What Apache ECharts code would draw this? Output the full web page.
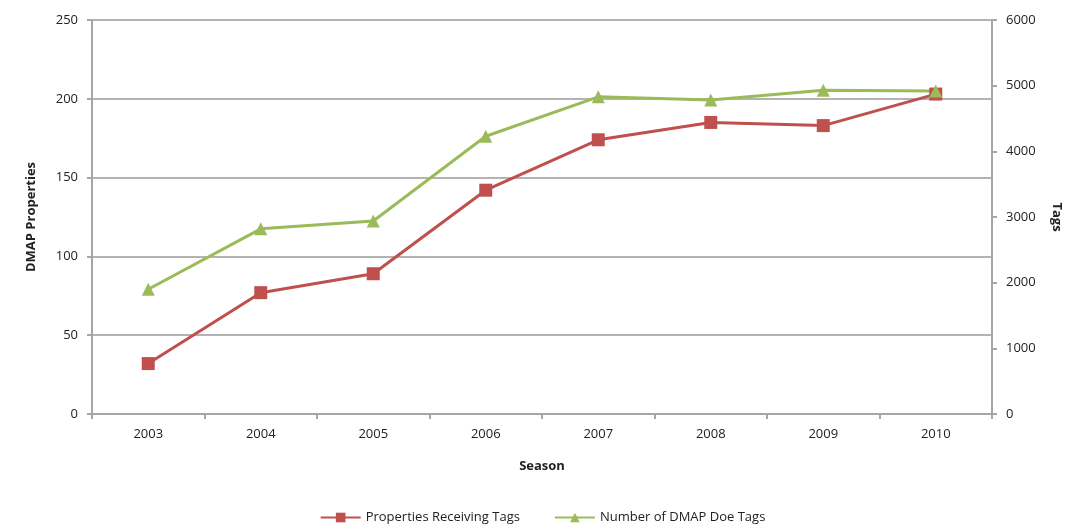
<!DOCTYPE html>
<html>
<head>
<meta charset="utf-8">
<script src="https://cdn.jsdelivr.net/npm/echarts@6/dist/echarts.min.js"></script>
<style>
  html, body { margin: 0; padding: 0; background: #fff; }
  #main { width: 1085px; height: 531px; }
</style>
</head>
<body>
<div id="main"></div>
<script>
// 类目与数据
const seasons = ['2003', '2004', '2005', '2006', '2007', '2008', '2009', '2010'];
const propertiesReceivingTags = [32, 77, 89, 142, 174, 185, 183, 203];
const doeTags = [1900, 2820, 2940, 4230, 4830, 4780, 4930, 4920];

const font = '"Open Sans", "Liberation Sans", sans-serif';
const gray = '#a6a6a6';

const myChart = echarts.init(document.getElementById('main'));
const options = {
  animation: false,
  textStyle: { fontFamily: font },
  grid: { left: 92, right: 93, top: 20, bottom: 117 },
  legend: {
    bottom: 2,
    left: 'center',
    itemWidth: 40,
    itemHeight: 12,
    itemGap: 34,
    textStyle: { fontSize: 13, color: '#222' },
    data: ['Properties Receiving Tags', 'Number of DMAP Doe Tags'],
  },
  xAxis: {
    type: 'category',
    data: seasons,
    boundaryGap: true,
    name: 'Season',
    nameLocation: 'middle',
    nameGap: 46,
    nameTextStyle: { fontWeight: 'bold', fontSize: 13, color: '#222' },
    axisLine: { lineStyle: { color: gray, width: 2 } },
    axisTick: { show: true, length: 5, lineStyle: { color: gray, width: 2 } },
    axisLabel: { fontSize: 13, color: '#222', margin: 14 },
  },
  yAxis: [
    {
      type: 'value',
      min: 0,
      max: 250,
      interval: 50,
      name: 'DMAP Properties',
      nameLocation: 'middle',
      nameGap: 54,
      nameTextStyle: { fontWeight: 'bold', fontSize: 13, color: '#222' },
      axisLine: { show: true, lineStyle: { color: gray, width: 2 } },
      axisTick: { show: true, length: 5, lineStyle: { color: gray, width: 2 } },
      axisLabel: { fontSize: 13, color: '#222', margin: 14 },
      splitLine: { show: true, lineStyle: { color: '#b3b3b3', width: 2 } },
    },
    {
      type: 'value',
      min: 0,
      max: 6000,
      interval: 1000,
      position: 'right',
      name: 'Tags',
      nameLocation: 'middle',
      nameRotate: -90,
      nameGap: 58,
      nameTextStyle: { fontWeight: 'bold', fontSize: 13, color: '#222' },
      axisLine: { show: true, lineStyle: { color: gray, width: 2 } },
      axisTick: { show: true, length: 5, lineStyle: { color: gray, width: 2 } },
      axisLabel: { fontSize: 13, color: '#222', margin: 14, formatter: (v) => String(v) },
      splitLine: { show: false },
    },
  ],
  series: [
    {
      name: 'Properties Receiving Tags',
      type: 'line',
      yAxisIndex: 0,
      data: propertiesReceivingTags,
      symbol: 'rect',
      symbolSize: 13,
      lineStyle: { color: '#c0504d', width: 3 },
      itemStyle: { color: '#c0504d' },
    },
    {
      name: 'Number of DMAP Doe Tags',
      type: 'line',
      yAxisIndex: 1,
      data: doeTags,
      symbol: 'triangle',
      symbolSize: 13,
      lineStyle: { color: '#9bbb59', width: 3 },
      itemStyle: { color: '#9bbb59' },
    },
  ],
};
myChart.setOption(options);
</script>
</body>
</html>
